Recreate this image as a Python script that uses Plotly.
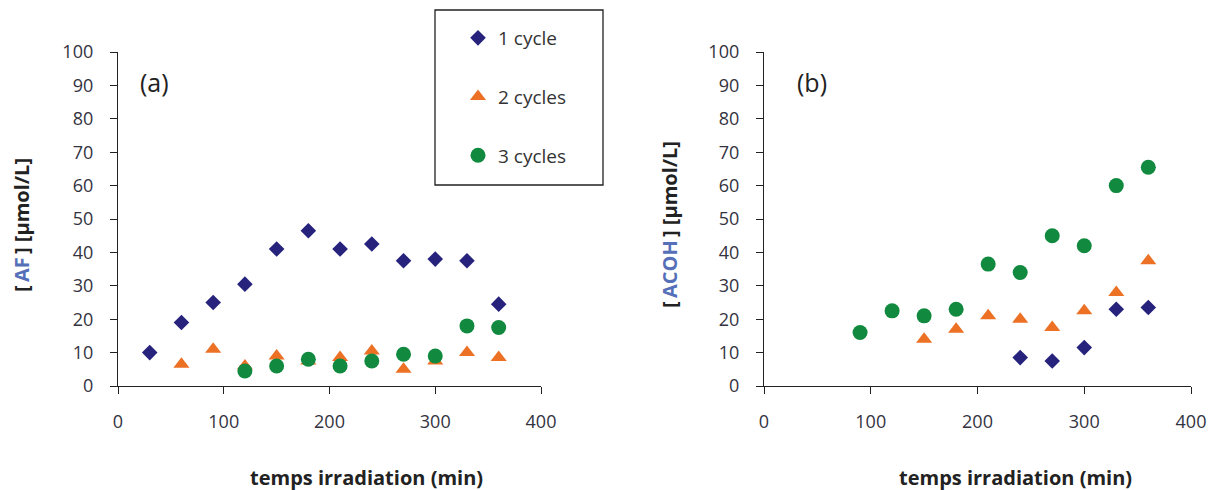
import plotly.graph_objects as go

# ---- data ----
t1 = [30, 60, 90, 120, 150, 180, 210, 240, 270, 300, 330, 360]
af_c1 = [10, 19, 25, 30.5, 41, 46.5, 41, 42.5, 37.5, 38, 37.5, 24.5]
t2 = [60, 90, 120, 150, 180, 210, 240, 270, 300, 330, 360]
af_c2 = [6.5, 11, 6, 9, 7.5, 8.5, 10.5, 5, 7.5, 10, 8.5]
t3 = [120, 150, 180, 210, 240, 270, 300, 330, 360]
af_c3 = [4.5, 6, 8, 6, 7.5, 9.5, 9, 18, 17.5]

tb1 = [240, 270, 300, 330, 360]
acoh_c1 = [8.5, 7.5, 11.5, 23, 23.5]
tb2 = [150, 180, 210, 240, 270, 300, 330, 360]
acoh_c2 = [14, 17, 21, 20, 17.5, 22.5, 28, 37.5]
tb3 = [90, 120, 150, 180, 210, 240, 270, 300, 330, 360]
acoh_c3 = [16, 22.5, 21, 23, 36.5, 34, 45, 42, 60, 65.5]

series_names = ["1 cycle", "2 cycles", "3 cycles"]
x_ticks = [0, 100, 200, 300, 400]
y_ticks = [0, 10, 20, 30, 40, 50, 60, 70, 80, 90, 100]

W, H = 1216, 490
FONT = "Open Sans"
C1, C2, C3 = "#27237D", "#EC7125", "#118A3F"
styles = [dict(symbol="diamond", size=12, color=C1),
          dict(symbol="triangle-up", size=14, color=C2),
          dict(symbol="circle", size=15, color=C3)]

fig = go.Figure()
left = [(t1, af_c1), (t2, af_c2), (t3, af_c3)]
right = [(tb1, acoh_c1), (tb2, acoh_c2), (tb3, acoh_c3)]
for i, (x, y) in enumerate(left):
    fig.add_trace(go.Scatter(x=x, y=y, mode="markers", name=series_names[i],
                             legendgroup=f"g{i}", marker=styles[i],
                             xaxis="x", yaxis="y", showlegend=True))
for i, (x, y) in enumerate(right):
    fig.add_trace(go.Scatter(x=x, y=y, mode="markers", name=series_names[i],
                             legendgroup=f"g{i}", marker=styles[i],
                             xaxis="x2", yaxis="y2", showlegend=False))

def px(v):
    return v / W

def py(v):
    return 1 - v / H

axis_common = dict(showgrid=False, zeroline=False, showline=True, linecolor="#222",
                   linewidth=1.3, ticks="outside", tickcolor="#222", ticklen=7,
                   automargin=False,
                   tickfont=dict(family=FONT, size=18, color="#33333f"))

xd1 = [px(118), px(541)]
xd2 = [px(764), px(1191)]
yd = [py(386), py(52)]

fig.update_layout(
    template="none",
    width=W, height=H,
    margin=dict(l=0, r=0, t=0, b=0, pad=0, autoexpand=False),
    paper_bgcolor="white", plot_bgcolor="white",
    xaxis=dict(domain=xd1, range=[0, 400], tickvals=x_ticks, anchor="y",
               ticklabelstandoff=12, **axis_common),
    yaxis=dict(domain=yd, range=[0, 100], tickvals=y_ticks, anchor="x",
               ticklabelstandoff=13, **axis_common),
    xaxis2=dict(domain=xd2, range=[0, 400], tickvals=x_ticks, anchor="y2",
                ticklabelstandoff=12, **axis_common),
    yaxis2=dict(domain=yd, range=[0, 100], tickvals=y_ticks, anchor="x2",
                ticklabelstandoff=13, **axis_common),
    showlegend=True,
    legend=dict(x=px(458), y=py(19), xanchor="left", yanchor="top",
                bgcolor="rgba(0,0,0,0)", borderwidth=0, tracegroupgap=31,
                font=dict(family=FONT, size=19, color="#333")),
    shapes=[dict(type="rect", xref="paper", yref="paper",
                 x0=px(435), x1=px(603), y0=py(185), y1=py(10),
                 line=dict(color="#222", width=1.3), layer="below")],
)

TS = "\u2009"
annotations = [
    dict(text="<b>temps irradiation (min)</b>", x=px(366), y=py(477),
         font=dict(family=FONT, size=20, color="#222")),
    dict(text="<b>temps irradiation (min)</b>", x=px(1015), y=py(477),
         font=dict(family=FONT, size=20, color="#222")),
    dict(text=f"<b>[{TS}<span style='color:#5570B8'>AF</span>{TS}] [µmol/L]</b>", x=px(22), y=py(225),
         textangle=-90, font=dict(family=FONT, size=20, color="#222")),
    dict(text=f"<b>[{TS}<span style='color:#5570B8'>ACOH</span>{TS}] [µmol/L]</b>", x=px(670), y=py(225),
         textangle=-90, font=dict(family=FONT, size=20, color="#222")),
    dict(text="(a)", x=px(154), y=py(82), font=dict(family=FONT, size=25, color="#222")),
    dict(text="(b)", x=px(812), y=py(82), font=dict(family=FONT, size=25, color="#222")),
]
for a in annotations:
    fig.add_annotation(xref="paper", yref="paper", showarrow=False,
                       xanchor="center", yanchor="middle", **a)

fig.write_html("out.html", config={"displayModeBar": False},
               post_script="document.body.style.margin='0';document.body.style.overflow='hidden';")
